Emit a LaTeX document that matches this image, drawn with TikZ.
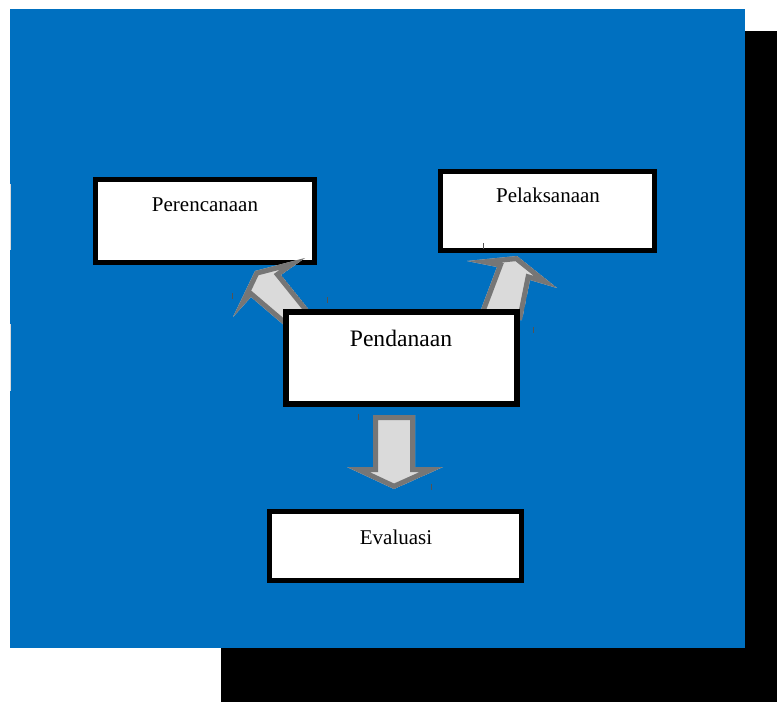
\documentclass[tikz,border=0pt]{standalone}
\usepackage{fontspec}
\setmainfont{Liberation Serif}
\definecolor{bgblue}{HTML}{0070C0}
\definecolor{arrline}{HTML}{767676}
\definecolor{arrfill}{HTML}{DADADA}
\newcommand\blockarr[1]{%
  \begin{scope}
    \clip #1;
    \fill[arrfill] #1;
    \draw[arrline, line width=7.5pt, line join=miter] #1;
  \end{scope}}
\begin{document}
\begin{tikzpicture}[x=0.75pt,y=-0.75pt,
  boxst/.style={draw=black, fill=white, line width=3.75pt, inner sep=0pt},
  lbl/.style={anchor=base, inner sep=0pt, font=\fontsize{15.75pt}{18pt}\selectfont},
  biglbl/.style={anchor=base, inner sep=0pt, font=\fontsize{17.7pt}{20pt}\selectfont},
  tick/.style={draw=arrline!70!black, line width=0.75pt},
  edge/.style={draw=black!15, line width=0.9pt}]
\useasboundingbox (0,0) rectangle (777,702);
% shadow and background
\fill[black] (221,31) rectangle (777,702);
\fill[bgblue] (10,9) rectangle (745,648);
\draw[edge] (10.5,184) -- (10.5,250);
\draw[edge] (10.5,324) -- (10.5,391);
% upper boxes
\node[boxst, minimum width=0.75pt*219, minimum height=0.75pt*83] (per) at (205,221) {};
\node[boxst, minimum width=0.75pt*214, minimum height=0.75pt*79] (pel) at (547.5,211) {};
% block arrows
\blockarr{(305,258) -- (255,271) -- (233,317) -- (251,297) -- (285,326) -- (314,316) -- (281,275) -- cycle}
\blockarr{(467,261) -- (517,256) -- (557,288) -- (530,280) -- (522,320) -- (477,320) -- (497,267) -- cycle}
\blockarr{(373,415) -- (415,415) -- (415,467) -- (443,467) -- (394,489) -- (347,467) -- (373,467) -- cycle}
% lower boxes
\node[boxst, line width=4.5pt, minimum width=0.75pt*231, minimum height=0.75pt*92] (pen) at (401.5,358) {};
\node[boxst, minimum width=0.75pt*252, minimum height=0.75pt*69] (eva) at (395.5,546) {};
% labels
\node[lbl] (tper) at (205,212) {Perencanaan};
\node[lbl] (tpel) at (548,203) {Pelaksanaan};
\node[biglbl] (tpen) at (401,346) {Pendanaan};
\node[lbl] (teva) at (396,544) {Evaluasi};
% small tick marks
\draw[tick] (232,293) -- (232,299);
\draw[tick] (327,297) -- (327,303);
\draw[tick] (483,243) -- (483,249);
\draw[tick] (533,327) -- (533,333);
\draw[tick] (358,414) -- (358,420);
\draw[tick] (431,484) -- (431,490);
\end{tikzpicture}
\end{document}
